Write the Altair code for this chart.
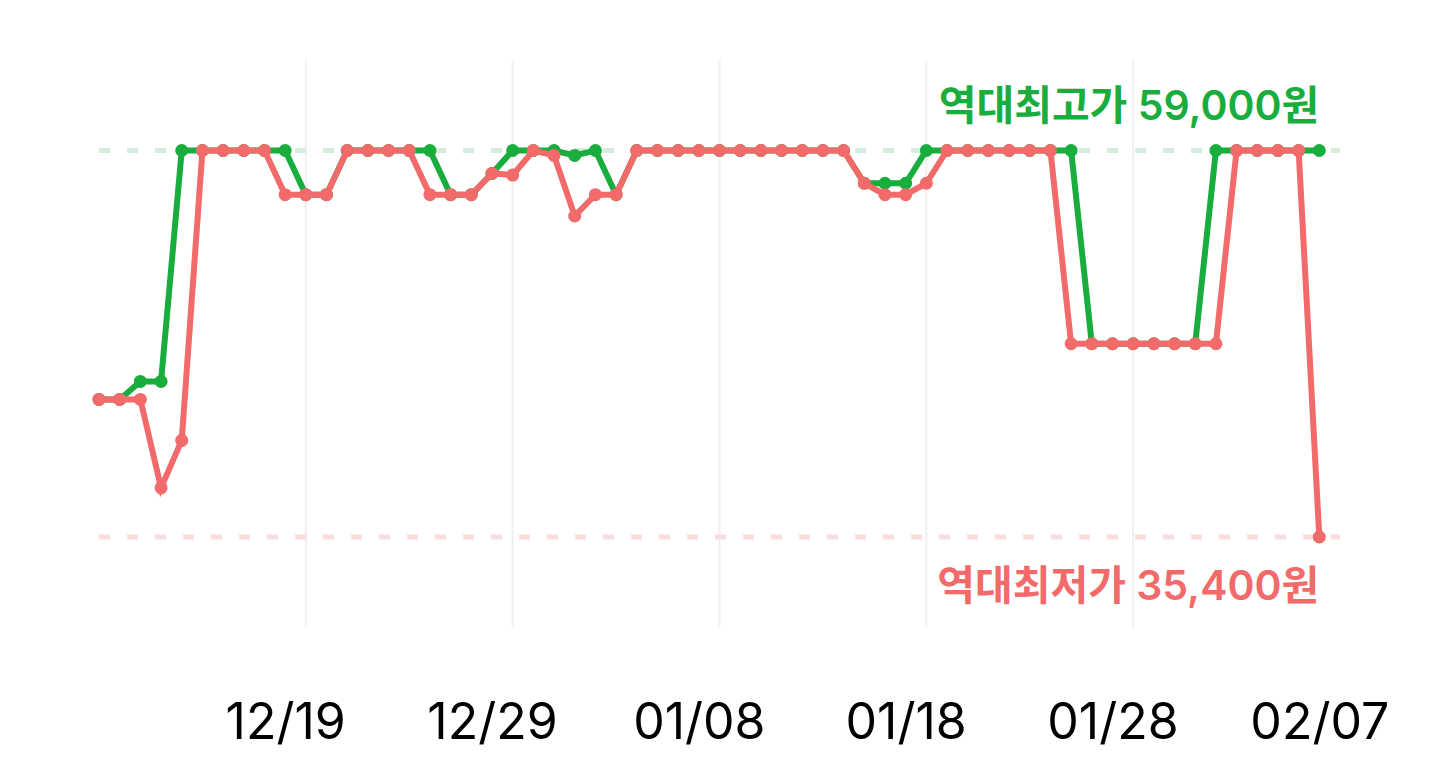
import altair as alt
import pandas as pd

# ---- data ----
start_date = "2023-12-10"
n_days = 60
high = [43800, 43800, 44900, 44900, 59000, 59000, 59000, 59000, 59000, 59000,
        56300, 56300, 59000, 59000, 59000, 59000, 59000, 56300, 56300, 57600,
        59000, 59000, 59000, 58700, 59000, 56300, 59000, 59000, 59000, 59000,
        59000, 59000, 59000, 59000, 59000, 59000, 59000, 57000, 57000, 57000,
        59000, 59000, 59000, 59000, 59000, 59000, 59000, 59000, 47200, 47200,
        47200, 47200, 47200, 47200, 59000, 59000, 59000, 59000, 59000, 59000]
low = [43800, 43800, 43800, 38400, 41300, 59000, 59000, 59000, 59000, 56300,
       56300, 56300, 59000, 59000, 59000, 59000, 56300, 56300, 56300, 57600,
       57500, 59000, 58700, 55000, 56300, 56300, 59000, 59000, 59000, 59000,
       59000, 59000, 59000, 59000, 59000, 59000, 59000, 57000, 56300, 56300,
       57000, 59000, 59000, 59000, 59000, 59000, 59000, 47200, 47200, 47200,
       47200, 47200, 47200, 47200, 47200, 59000, 59000, 59000, 59000, 35400]
label_dates = ["2023-12-19", "2023-12-29", "2024-01-08", "2024-01-18", "2024-01-28", "2024-02-07"]
grid_dates = ["2023-12-20", "2023-12-30", "2024-01-09", "2024-01-19", "2024-01-29"]
x_end = "2024-02-08"

GREEN = "#19ad3d"
RED = "#f26a6a"
GREEN_LIGHT = "#d3efd9"
RED_LIGHT = "#fbdcdc"
FONT = "Inter, 'Noto Sans CJK KR', sans-serif"

dates = pd.date_range(start_date, periods=n_days, freq="D")
df = pd.DataFrame({"date": dates, "high": high, "low": low})


def dt(s):
    t = pd.Timestamp(s)
    return alt.DateTime(year=t.year, month=t.month, date=t.day)


x_scale = alt.Scale(domain=[dt(start_date), dt(x_end)])
y_scale = alt.Scale(domain=[29905, 64526], zero=False, nice=False)

x_axis = alt.Axis(
    values=[dt(d) for d in label_dates], format="%m/%d", title=None,
    grid=False, ticks=False, domain=False, labelFontSize=50, labelColor="#000000",
    labelFont="Inter", labelPadding=71, labelFlush=False, labelOverlap=False,
)

max_v = max(high)
min_v = min(low)
ref_df = pd.DataFrame({
    "start": [dates[0], dates[0]],
    "end": [pd.Timestamp(x_end)] * 2,
    "last": [dates[-1], dates[-1]],
    "value": [max_v, min_v],
    "kind": ["max", "min"],
    "label": [f"역대최고가 {max_v:,}원", f"역대최저가 {min_v:,}원"],
})
grid_df = pd.DataFrame({"date": pd.to_datetime(grid_dates)})

grid = alt.Chart(grid_df).mark_rule(color="#f0f0f0", strokeWidth=2).encode(
    x=alt.X("date:T", scale=x_scale, axis=x_axis)
)

ref_max = alt.Chart(ref_df).transform_filter("datum.kind == 'max'")
ref_min = alt.Chart(ref_df).transform_filter("datum.kind == 'min'")

dash_max = ref_max.mark_rule(color=GREEN_LIGHT, strokeWidth=5, strokeDash=[11, 17]).encode(
    x=alt.X("start:T", scale=x_scale), x2="end:T", y=alt.Y("value:Q", scale=y_scale, axis=None)
)
dash_min = ref_min.mark_rule(color=RED_LIGHT, strokeWidth=5, strokeDash=[11, 17]).encode(
    x=alt.X("start:T", scale=x_scale), x2="end:T", y=alt.Y("value:Q", scale=y_scale, axis=None)
)

text_max = ref_max.mark_text(align="right", baseline="alphabetic", dy=-31, fontSize=41,
                             fontWeight=600, font=FONT, color=GREEN).encode(
    x=alt.X("last:T", scale=x_scale), y=alt.Y("value:Q", scale=y_scale, axis=None), text="label:N"
)
text_min = ref_min.mark_text(align="right", baseline="alphabetic", dy=63, fontSize=41,
                             fontWeight=600, font=FONT, color=RED).encode(
    x=alt.X("last:T", scale=x_scale), y=alt.Y("value:Q", scale=y_scale, axis=None), text="label:N"
)

line_high = alt.Chart(df).mark_line(
    color=GREEN, strokeWidth=6, point=alt.OverlayMarkDef(color=GREEN, filled=True, size=170, opacity=1)
).encode(x=alt.X("date:T", scale=x_scale), y=alt.Y("high:Q", scale=y_scale, axis=None))

line_low = alt.Chart(df).mark_line(
    color=RED, strokeWidth=6, point=alt.OverlayMarkDef(color=RED, filled=True, size=170, opacity=1)
).encode(x=alt.X("date:T", scale=x_scale), y=alt.Y("low:Q", scale=y_scale, axis=None))

chart = alt.layer(grid, dash_max, dash_min, line_high, line_low, text_max, text_min).properties(
    width=1241, height=567,
    background="#ffffff",
    autosize=alt.AutoSizeParams(type="none"),
    padding={"left": 91, "top": 52, "right": 92, "bottom": 135},
).configure_view(stroke=None, strokeWidth=0)

chart.save("out.html", embed_options={"renderer": "svg", "actions": False})
